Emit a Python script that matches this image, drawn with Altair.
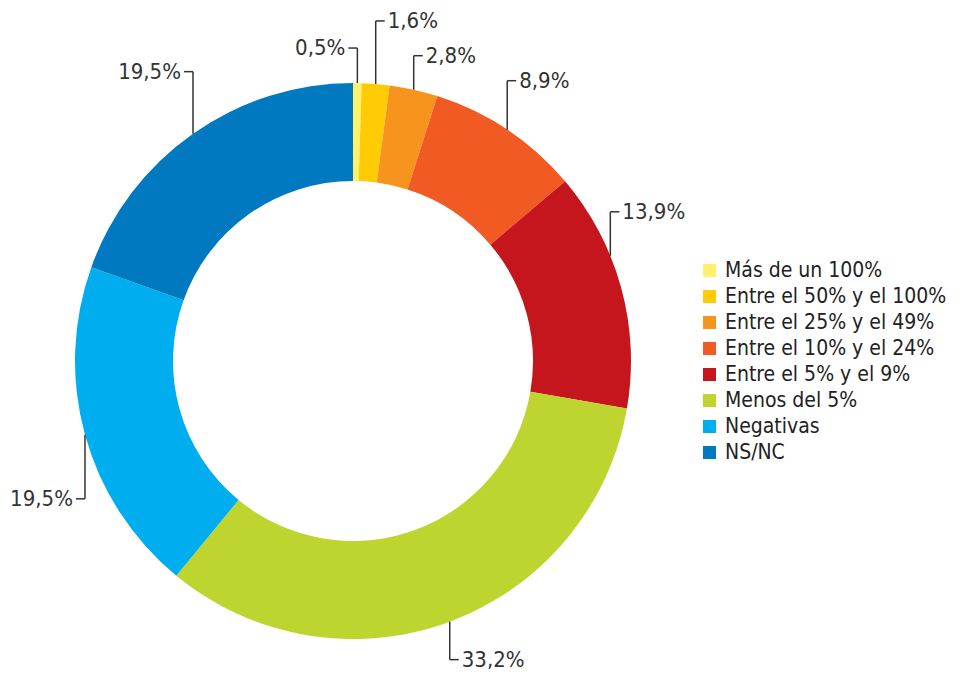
import altair as alt
import pandas as pd

# ---- data ----
categories = ["Más de un 100%", "Entre el 50% y el 100%", "Entre el 25% y el 49%",
              "Entre el 10% y el 24%", "Entre el 5% y el 9%", "Menos del 5%",
              "Negativas", "NS/NC"]
values = [0.5, 1.6, 2.8, 8.9, 13.9, 33.2, 19.5, 19.5]
colors = ["#FFF16B", "#FFCB05", "#F7941D", "#F15A22", "#C4161C", "#BED530",
          "#00AEEF", "#0079C1"]

# ---- label leader layout (style, not data) ----
leader_at = [0.5, 0.5, 0.5, 0.5, 0.36, 0.5, 0.5, 0.5]   # where on the slice the leader starts
leader_dy = [-35, -63, -34, -49, -44, 38, 64, -62]       # vertical leg length
leader_dir = [-1, 1, 1, 1, 1, 1, -1, -1]                 # horizontal tick direction

CX, CY = 345, 353
R_OUT, R_IN = 278, 180
TICK = 9
FONT = "DejaVu Sans Condensed"

df = pd.DataFrame({
    "category": categories,
    "value": values,
    "order": list(range(len(values))),
    "at": leader_at,
    "dy": leader_dy,
    "dir": leader_dir,
})

base = alt.Chart(df)

arcs = base.mark_arc(radius=R_OUT, radius2=R_IN).encode(
    theta=alt.Theta("value:Q", stack=True),
    order=alt.Order("order:Q"),
    color=alt.Color(
        "category:N",
        scale=alt.Scale(domain=categories, range=colors),
        sort=categories,
        legend=alt.Legend(
            orient="none", legendX=691, legendY=252, title=None,
            symbolType="square", symbolSize=169, symbolStrokeWidth=0,
            symbolOpacity=1, labelFontSize=21, labelFont=FONT,
            labelColor="#222222", rowPadding=4, labelOffset=5,
            labelLimit=400,
        ),
    ),
    x=alt.value(CX),
    y=alt.value(CY),
)

lab = base.transform_window(
    cum="sum(value)", sort=[alt.SortField("order")], frame=[None, 0]
).transform_joinaggregate(
    total="sum(value)"
).transform_calculate(
    frac="(datum.cum - datum.value + datum.value * datum.at) / datum.total",
    ax=f"{CX} + {R_OUT} * sin(2 * PI * datum.frac)",
    ay=f"{CY} - {R_OUT} * cos(2 * PI * datum.frac)",
    ly="datum.ay + datum.dy",
    tx=f"datum.ax + datum.dir * {TICK}",
    lx="datum.tx + datum.dir * 3",
    label="replace(format(datum.value, '.1f'), '.', ',') + '%'",
)

vert = lab.mark_rule(color="#333333", strokeWidth=1.5).encode(
    x=alt.X("ax:Q", scale=None),
    y=alt.Y("ay:Q", scale=None),
    y2="ly:Q",
)
horiz = lab.mark_rule(color="#333333", strokeWidth=1.5).encode(
    x=alt.X("ax:Q", scale=None),
    x2="tx:Q",
    y=alt.Y("ly:Q", scale=None),
)
text_r = lab.transform_filter("datum.dir > 0").mark_text(
    align="left", baseline="middle", fontSize=22, font=FONT, color="#333333"
).encode(
    x=alt.X("lx:Q", scale=None),
    y=alt.Y("ly:Q", scale=None),
    text="label:N",
)
text_l = lab.transform_filter("datum.dir < 0").mark_text(
    align="right", baseline="middle", fontSize=22, font=FONT, color="#333333"
).encode(
    x=alt.X("lx:Q", scale=None),
    y=alt.Y("ly:Q", scale=None),
    text="label:N",
)

chart = alt.layer(arcs, vert, horiz, text_r, text_l).properties(
    width=947, height=665, padding=0, background="white",
    autosize=alt.AutoSizeParams(type="none"),
).configure_view(stroke=None)

chart.save("out.html", embed_options={"renderer": "svg", "actions": False})
